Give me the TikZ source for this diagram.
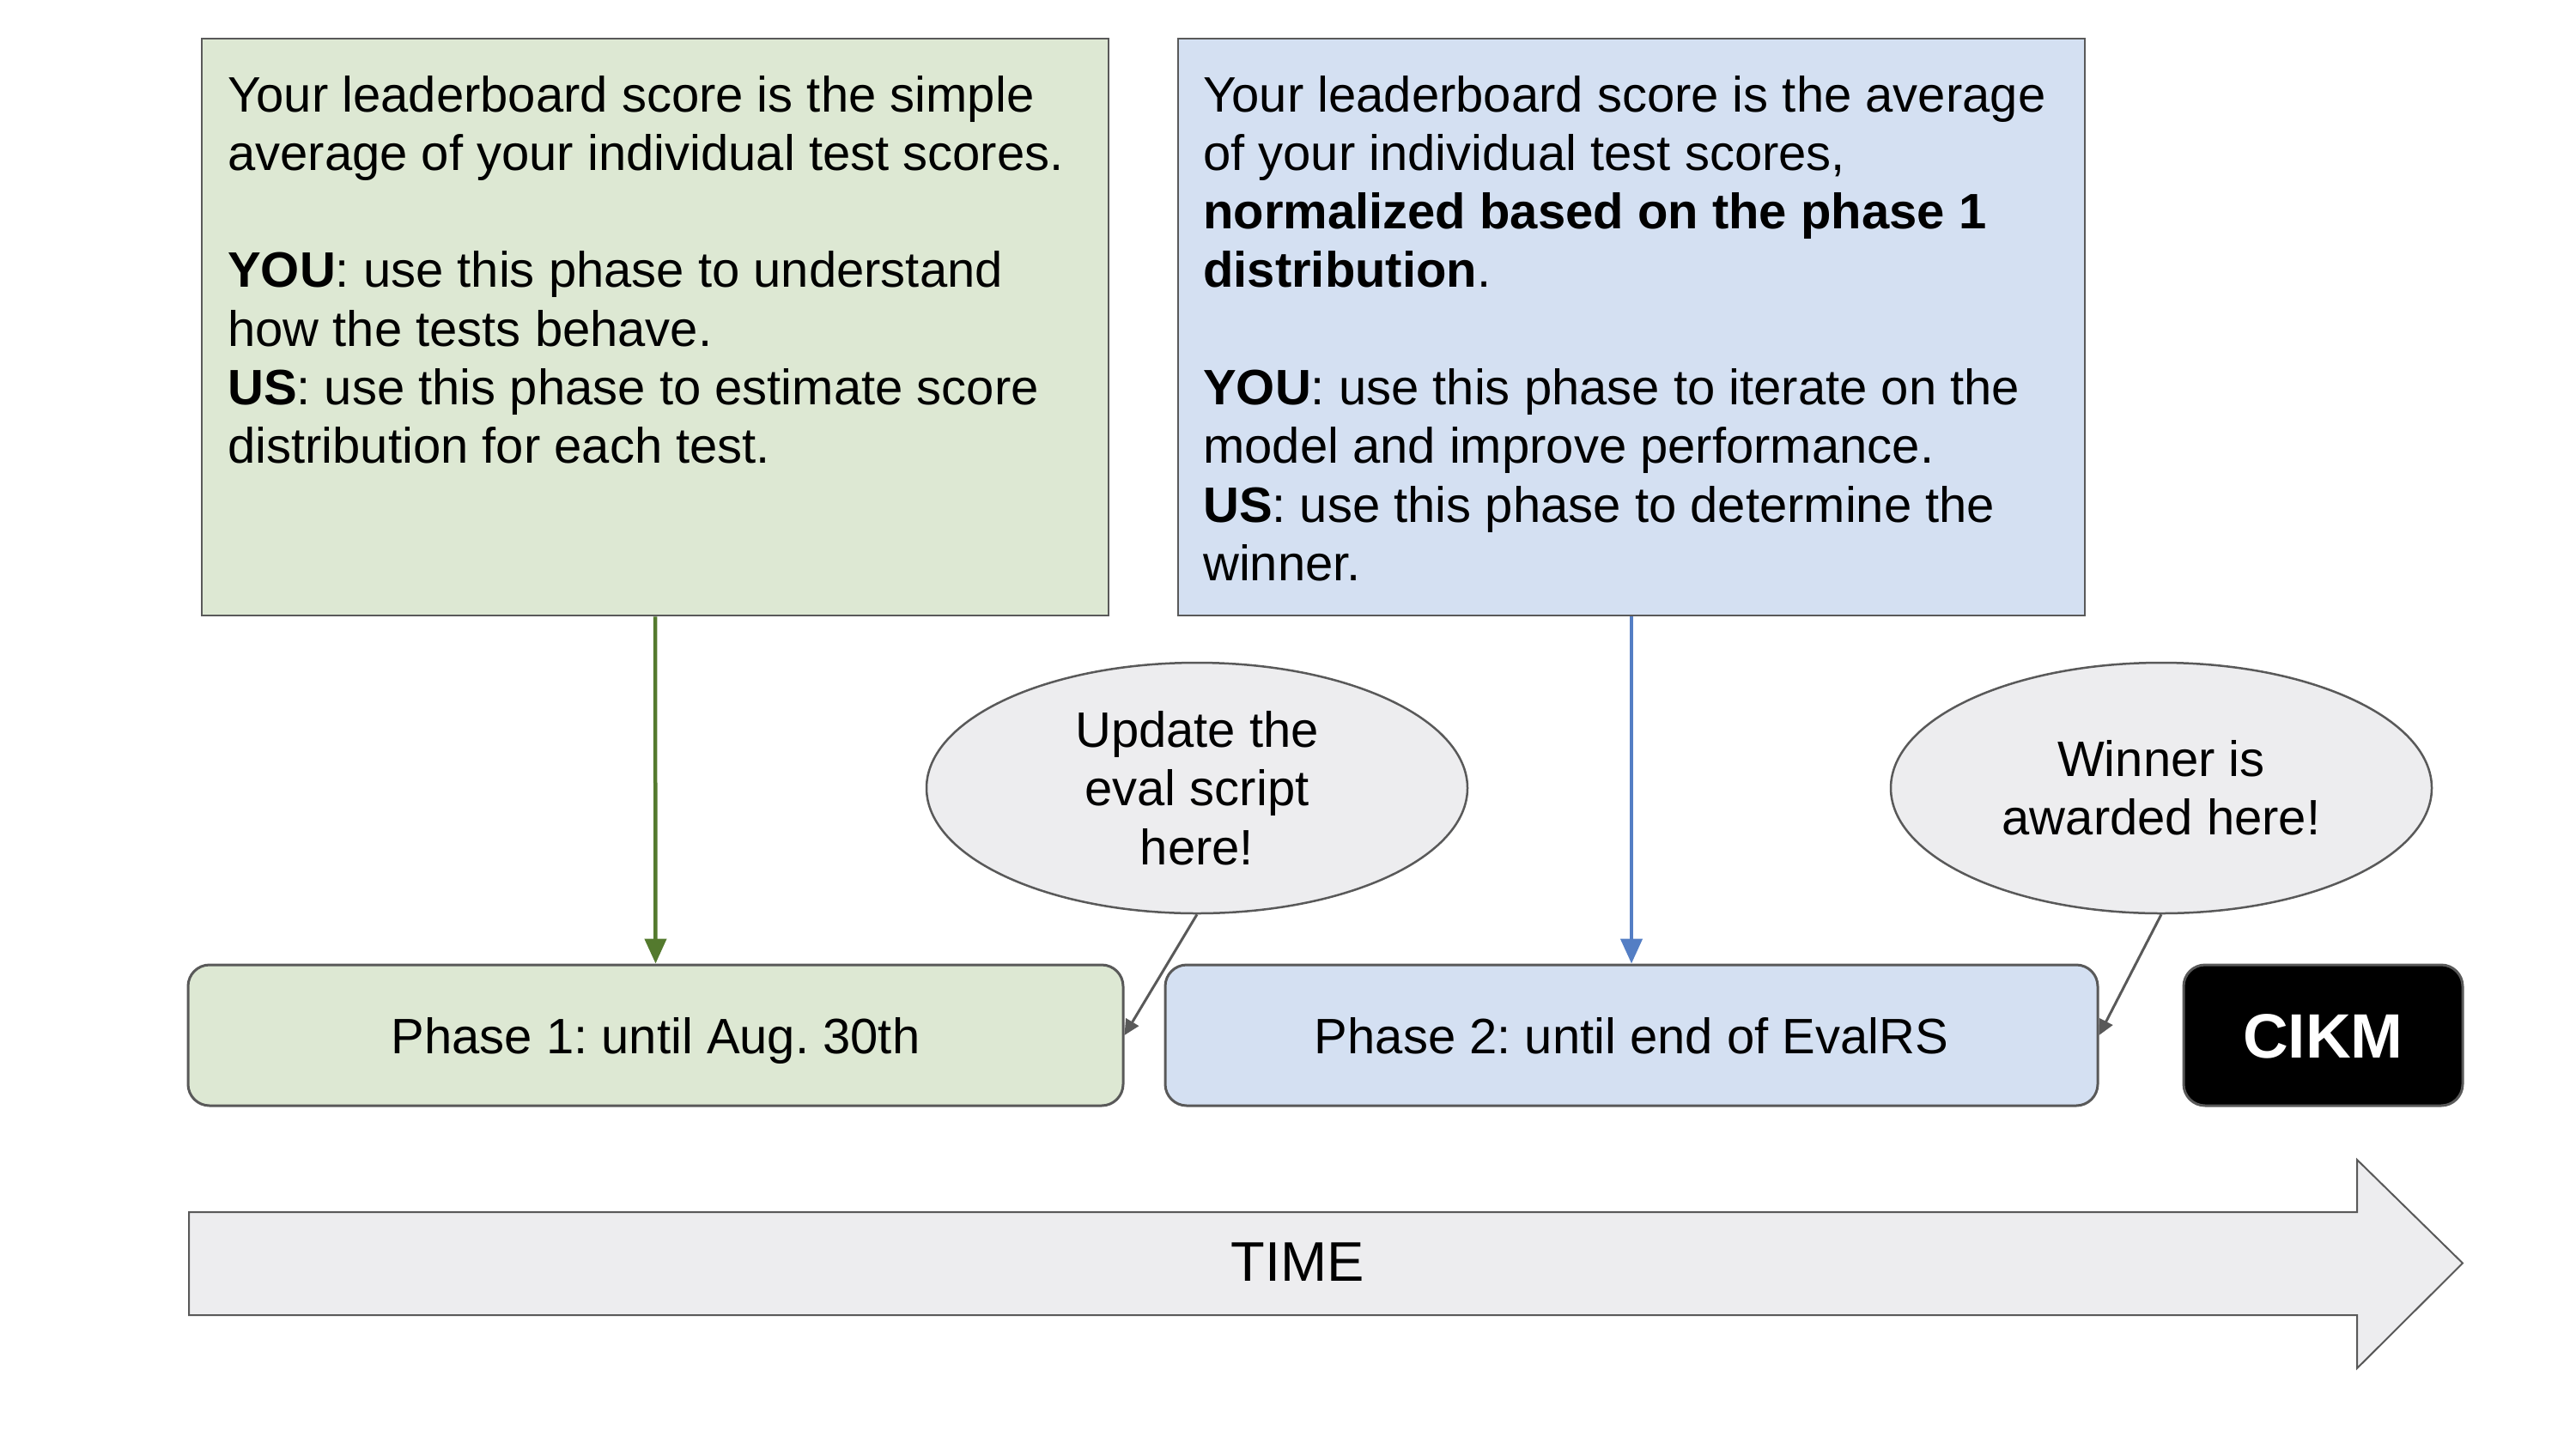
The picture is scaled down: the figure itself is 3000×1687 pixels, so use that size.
\documentclass[tikz,border=0pt]{standalone}
\usepackage{fontspec}
\setmainfont{Liberation Sans}
\usetikzlibrary{arrows.meta,shapes.geometric}
\definecolor{gfill}{RGB}{221,232,211}
\definecolor{bfill}{RGB}{212,224,242}
\definecolor{grayfill}{RGB}{237,237,239}
\definecolor{edgegray}{RGB}{89,89,89}
\definecolor{garrow}{RGB}{84,122,46}
\definecolor{barrow}{RGB}{84,126,196}
\newcommand{\bodyfont}{\fontsize{58}{68.3}\selectfont}
\frenchspacing
\begin{document}
\begin{tikzpicture}[x=1pt,y=-1pt,
  infobox/.style={draw=edgegray,line width=2.5pt,inner sep=0pt,minimum width=1056pt,minimum height=672pt},
  phasebox/.style={draw=edgegray,line width=3pt,rounded corners=25pt,inner sep=0pt,minimum height=164pt,font=\bodyfont,text height=42pt,text depth=0pt},
  bubble/.style={ellipse,draw=edgegray,line width=2.5pt,fill=grayfill,inner sep=0pt,minimum width=630pt,minimum height=292pt,align=center,font=\bodyfont},
  infotext/.style={anchor=base west,inner sep=0pt,font=\bodyfont},
  downarrow/.style={line width=4.5pt,-{Triangle[length=29pt,width=25pt]}},
  callout/.style={draw=edgegray,line width=3pt,-{Triangle[length=18pt,width=17pt]}}
]
\fill[white] (0,0) rectangle (3000,1687);
\useasboundingbox (0,0) rectangle (3000,1687);

% top boxes
\node[infobox,fill=gfill] (gbox) at (763,381) {};
\node[infobox,fill=bfill] (bbox) at (1900,381) {};

\node[infotext] (gtext) at (265,130) {\vtop{\baselineskip=68.3pt
  \hbox{Your leaderboard score is the simple}
  \hbox{average of your individual test scores.}
  \hbox{}
  \hbox{\textbf{YOU}: use this phase to understand}
  \hbox{how the tests behave.}
  \hbox{\textbf{US}: use this phase to estimate score}
  \hbox{distribution for each test.}}};

\node[infotext] (btext) at (1401,130) {\vtop{\baselineskip=68.3pt
  \hbox{Your leaderboard score is the average}
  \hbox{of your individual test scores,}
  \hbox{\textbf{normalized based on the phase 1}}
  \hbox{\textbf{distribution}.}
  \hbox{}
  \hbox{\textbf{YOU}: use this phase to iterate on the}
  \hbox{model and improve performance.}
  \hbox{\textbf{US}: use this phase to determine the}
  \hbox{winner.}}};

% phase boxes
\node[phasebox,fill=gfill,minimum width=1089pt] (p1) at (763.5,1206) {Phase 1: until Aug. 30th};
\node[phasebox,fill=bfill,minimum width=1086pt] (p2) at (1900,1206) {Phase 2: until end of EvalRS};
\node[phasebox,fill=black,minimum width=325pt,text=white,font=\fontsize{73}{84}\selectfont\bfseries,text height=52pt] (cikm) at (2705.5,1206) {CIKM};

% bubbles
\node[bubble] (e1) at (1394,918) {Update the\\eval script\\here!};
\node[bubble] (e2) at (2517,918) {Winner is\\awarded here!};

% arrows
\draw[downarrow,draw=garrow,fill=garrow] (gbox.south) -- (p1.north);
\draw[downarrow,draw=barrow,fill=barrow] (bbox.south) -- (p2.north);
\draw[callout,fill=edgegray] (e1.south) -- (p1.east);
\draw[callout,fill=edgegray] (e2.south) -- (p2.east);

% time arrow
\draw[draw=edgegray,line width=2pt,fill=grayfill,line join=miter]
  (220,1412) -- (2745,1412) -- (2745,1351) -- (2868,1471.5) -- (2745,1594) -- (2745,1532) -- (220,1532) -- cycle;
\node[anchor=base,inner sep=0pt,font=\fontsize{65}{75}\selectfont] (time) at (1511,1492) {TIME};
\end{tikzpicture}
\end{document}
